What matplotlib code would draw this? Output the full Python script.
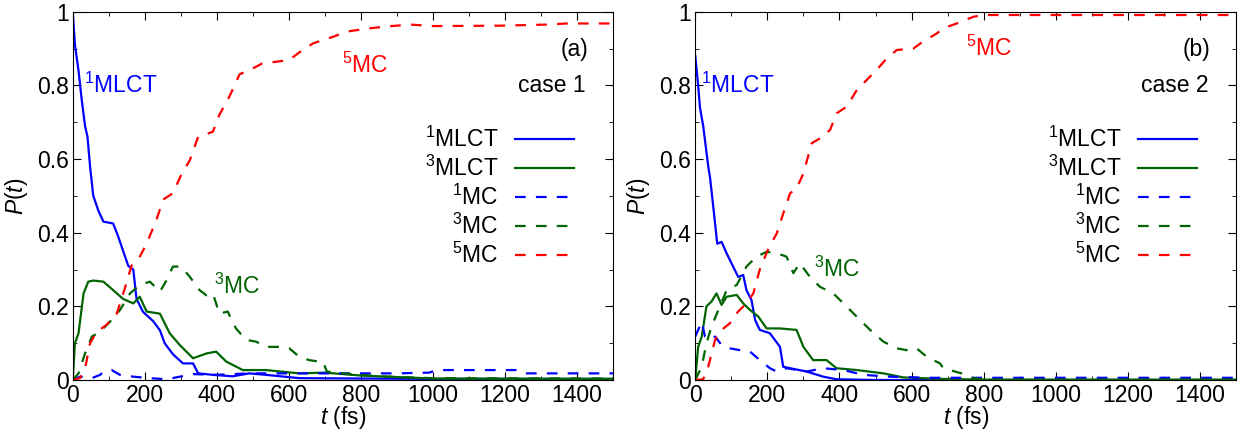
import matplotlib
matplotlib.use('Agg')
import matplotlib.pyplot as plt
from matplotlib.ticker import MultipleLocator

# ---- case 1 ----
c1_mlct1_t = [0, 6, 16, 25, 34, 41, 48, 57, 71, 85, 112, 126, 140, 154, 168, 177, 195, 223, 242, 255,
              278, 306, 334, 348, 389, 444, 490, 536, 629, 800, 1000, 1500]
c1_mlct1_p = [1.0, 0.91, 0.84, 0.76, 0.69, 0.66, 0.58, 0.50, 0.46, 0.43, 0.425, 0.39, 0.35, 0.31, 0.30, 0.22,
              0.185, 0.16, 0.135, 0.10, 0.07, 0.045, 0.045, 0.018, 0.014, 0.01, 0.018, 0.014, 0.005, 0.004, 0.003, 0.003]

c1_mlct3_t = [0, 6, 16, 30, 43, 57, 85, 112, 140, 168, 186, 205, 242, 269, 297, 334, 371, 398, 426, 472,
              536, 629, 700, 800, 900, 1000, 1500]
c1_mlct3_p = [0.0, 0.10, 0.127, 0.235, 0.267, 0.27, 0.267, 0.244, 0.22, 0.208, 0.226, 0.186, 0.18, 0.127,
              0.095, 0.059, 0.072, 0.077, 0.05, 0.027, 0.027, 0.018, 0.02, 0.012, 0.008, 0.004, 0.003]

c1_mc1_t = [0, 20, 50, 76, 85, 108, 131, 168, 214, 260, 297, 334, 398, 490, 629, 900, 990, 1010, 1240, 1260, 1500]
c1_mc1_p = [0.0, 0.009, 0.004, 0.014, 0.023, 0.027, 0.014, 0.009, 0.005, 0.002, 0.009, 0.016, 0.014, 0.018,
            0.018, 0.018, 0.02, 0.027, 0.027, 0.018, 0.018]

c1_mc3_t = [0, 16, 34, 53, 76, 103, 131, 159, 186, 214, 242, 260, 278, 301, 325, 352, 371, 389, 407, 430,
            453, 481, 509, 536, 573, 601, 629, 656, 684, 695, 705, 750, 850, 1000, 1500]
c1_mc3_p = [0.0, 0.018, 0.072, 0.118, 0.131, 0.158, 0.19, 0.235, 0.258, 0.267, 0.24, 0.27, 0.308, 0.308,
            0.28, 0.244, 0.23, 0.235, 0.18, 0.186, 0.14, 0.109, 0.104, 0.09, 0.09, 0.086, 0.063, 0.054, 0.05,
            0.05, 0.023, 0.018, 0.01, 0.005, 0.004]

c1_mc5_t = [0, 20, 34, 48, 66, 94, 122, 145, 163, 186, 205, 232, 251, 278, 301, 325, 348, 389, 407, 435,
            463, 500, 527, 564, 601, 631, 667, 723, 761, 817, 872, 937, 1001, 1187, 1316, 1371, 1500]
c1_mc5_p = [0.0, 0.005, 0.03, 0.10, 0.13, 0.15, 0.18, 0.25, 0.31, 0.335, 0.37, 0.434, 0.49, 0.507, 0.557,
            0.597, 0.66, 0.674, 0.72, 0.77, 0.83, 0.846, 0.86, 0.864, 0.869, 0.891, 0.914, 0.932, 0.946,
            0.954, 0.96, 0.965, 0.961, 0.962, 0.965, 0.968, 0.968]

# ---- case 2 ----
c2_mlct1_t = [0, 8, 13, 22, 36, 41, 50, 61, 73, 87, 105, 119, 133, 142, 156, 166, 179, 207, 235, 244,
              263, 309, 355, 392, 500, 1500]
c2_mlct1_p = [0.88, 0.80, 0.74, 0.69, 0.58, 0.55, 0.47, 0.37, 0.375, 0.344, 0.308, 0.28, 0.285, 0.244,
              0.217, 0.163, 0.136, 0.127, 0.09, 0.036, 0.032, 0.023, 0.009, 0.002, 0.0, 0.0]

c2_mlct3_t = [0, 8, 18, 31, 45, 59, 73, 87, 115, 133, 152, 175, 198, 235, 281, 300, 327, 364, 392, 448,
              522, 577, 679, 800, 1500]
c2_mlct3_p = [0.0, 0.09, 0.118, 0.2, 0.213, 0.235, 0.204, 0.226, 0.231, 0.208, 0.19, 0.172, 0.14, 0.14,
              0.136, 0.09, 0.054, 0.054, 0.032, 0.027, 0.018, 0.007, 0.003, 0.001, 0.001]

c2_mc1_t = [0, 8, 18, 27, 41, 55, 73, 96, 124, 152, 179, 207, 226, 253, 309, 355, 411, 466, 540, 651, 1500]
c2_mc1_p = [0.118, 0.136, 0.158, 0.118, 0.109, 0.118, 0.095, 0.086, 0.081, 0.077, 0.054, 0.032, 0.023,
            0.032, 0.023, 0.032, 0.027, 0.014, 0.009, 0.006, 0.006]

c2_mc3_t = [0, 18, 31, 45, 64, 87, 115, 142, 170, 198, 226, 253, 272, 290, 318, 346, 383, 411, 448, 485,
            522, 559, 586, 614, 642, 679, 688, 753, 771, 800, 1500]
c2_mc3_p = [0.0, 0.036, 0.10, 0.145, 0.19, 0.244, 0.258, 0.308, 0.335, 0.348, 0.344, 0.335, 0.29, 0.317,
            0.28, 0.253, 0.235, 0.208, 0.172, 0.136, 0.104, 0.086, 0.081, 0.086, 0.063, 0.045, 0.032, 0.014,
            0.005, 0.001, 0.001]

c2_mc5_t = [0, 22, 36, 55, 73, 96, 119, 142, 161, 179, 203, 226, 244, 263, 281, 300, 323, 346, 374, 392,
            420, 448, 475, 503, 531, 559, 605, 632, 670, 688, 725, 771, 799, 1500]
c2_mc5_p = [0.0, 0.002, 0.036, 0.109, 0.136, 0.154, 0.186, 0.208, 0.235, 0.30, 0.357, 0.398, 0.452, 0.507,
            0.52, 0.561, 0.643, 0.656, 0.679, 0.724, 0.742, 0.787, 0.814, 0.842, 0.873, 0.896, 0.90, 0.919,
            0.941, 0.955, 0.968, 0.986, 0.991, 0.991]

state_labels = [r'$^{1}$MLCT', r'$^{3}$MLCT', r'$^{1}$MC', r'$^{3}$MC', r'$^{5}$MC']
x_ticks = [0, 200, 400, 600, 800, 1000, 1200, 1400]
y_ticks = [0, 0.2, 0.4, 0.6, 0.8, 1]
y_tick_labels = ['0', '0.2', '0.4', '0.6', '0.8', '1']

BLUE = '#0000ff'
GREEN = '#006400'
RED = '#ff0000'
FS = 16.5

plt.rcParams['font.family'] = ['Liberation Sans', 'DejaVu Sans']
plt.rcParams['mathtext.fontset'] = 'custom'
plt.rcParams['mathtext.rm'] = 'Liberation Sans'
plt.rcParams['mathtext.it'] = 'Liberation Sans:italic'
plt.rcParams['font.size'] = FS


def draw_panel(ax, series, tag, case, annot):
    styles = [(BLUE, '-'), (GREEN, '-'), (BLUE, '--'), (GREEN, '--'), (RED, '--')]
    for (t, p), (c, ls), lab in zip(series, styles, state_labels):
        if ls == '--':
            ax.plot(t, p, color=c, lw=1.6, dashes=(4.8, 4.6), label=lab)
        else:
            ax.plot(t, p, color=c, lw=1.6, label=lab)
    ax.set_xlim(0, 1500)
    ax.set_ylim(0, 1)
    ax.set_xticks(x_ticks)
    ax.set_yticks(y_ticks)
    ax.set_yticklabels(y_tick_labels)
    ax.xaxis.set_minor_locator(MultipleLocator(100))
    ax.yaxis.set_minor_locator(MultipleLocator(0.1))
    ax.tick_params(which='both', direction='in', top=True, right=True)
    ax.tick_params(which='major', length=6, labelsize=FS, pad=3)
    ax.tick_params(which='minor', length=3)
    ax.set_xlabel(r'$t$ (fs)', fontsize=FS, labelpad=-2)
    ax.set_ylabel(r'$P$($t$)', fontsize=FS, labelpad=5)
    ax.text(1430, 0.896, tag, ha='right', va='center', fontsize=FS)
    ax.text(1425, 0.80, case, ha='right', va='center', fontsize=FS)
    for (x, y, s, c) in annot:
        ax.text(x, y, s, color=c, ha='left', va='center', fontsize=FS)
    ax.legend(loc='upper right', bbox_to_anchor=(0.945, 0.712), markerfirst=False, frameon=False,
              handlelength=2.6, handletextpad=0.7, labelspacing=0.16, fontsize=FS, borderaxespad=0)


fig = plt.figure(figsize=(12.48, 4.33), dpi=100)
ax1 = fig.add_axes([0.0583, 0.1224, 0.433, 0.8506])
ax2 = fig.add_axes([0.5571, 0.1224, 0.4333, 0.8506])

draw_panel(ax1,
           [(c1_mlct1_t, c1_mlct1_p), (c1_mlct3_t, c1_mlct3_p), (c1_mc1_t, c1_mc1_p),
            (c1_mc3_t, c1_mc3_p), (c1_mc5_t, c1_mc5_p)],
           '(a)', 'case 1',
           [(30, 0.80, state_labels[0], BLUE), (392, 0.255, state_labels[3], GREEN),
            (748, 0.855, state_labels[4], RED)])
draw_panel(ax2,
           [(c2_mlct1_t, c2_mlct1_p), (c2_mlct3_t, c2_mlct3_p), (c2_mc1_t, c2_mc1_p),
            (c2_mc3_t, c2_mc3_p), (c2_mc5_t, c2_mc5_p)],
           '(b)', 'case 2',
           [(15, 0.80, state_labels[0], BLUE), (328, 0.30, state_labels[3], GREEN),
            (750, 0.90, state_labels[4], RED)])

fig.savefig('out.png', dpi=100)
